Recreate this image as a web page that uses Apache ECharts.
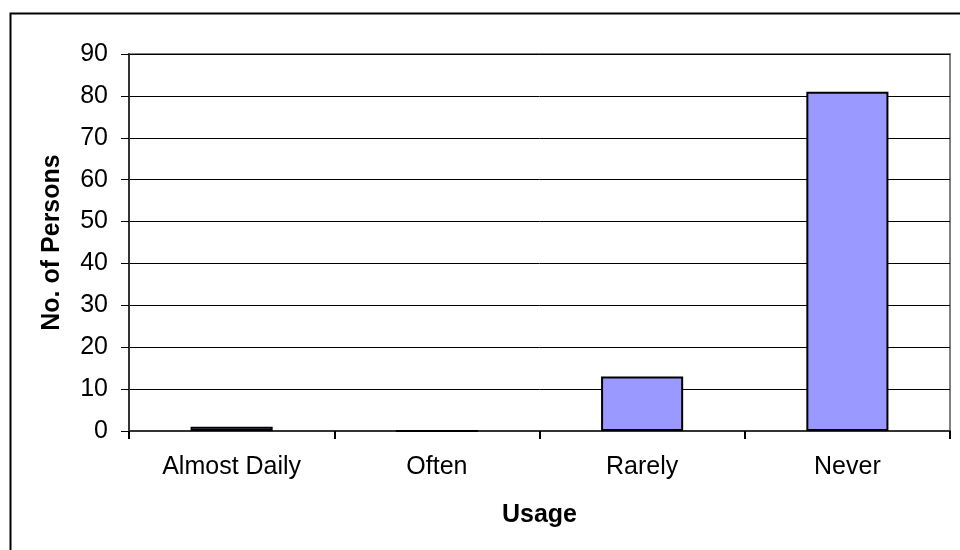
<!DOCTYPE html>
<html>
<head>
<meta charset="utf-8">
<script src="https://cdn.jsdelivr.net/npm/echarts@6/dist/echarts.min.js"></script>
<style>
html,body{margin:0;padding:0;background:#fff;}
#chart{width:960px;height:550px;}
</style>
</head>
<body>
<div id="chart"></div>
<script>
var categories = ['Almost Daily', 'Often', 'Rarely', 'Never'];
var persons = [1, 0, 13, 81];
var yMin = 0, yMax = 90, yStep = 10;
var xTitle = 'Usage';
var yTitle = 'No. of Persons';

var font = '"Liberation Sans", Arial, sans-serif';
var chart = echarts.init(document.getElementById('chart'), null, {renderer: 'canvas'});
chart.setOption({
  animation: false,
  backgroundColor: '#ffffff',
  graphic: [{
    type: 'rect', left: 8, top: 11, z: 100,
    shape: {width: 1000, height: 1000},
    style: {fill: null, stroke: '#000', lineWidth: 2}
  }],
  grid: {left: 129, top: 54, right: 10, bottom: 119, show: true, borderColor: '#808080', borderWidth: 2, backgroundColor: 'transparent'},
  xAxis: {
    type: 'category', data: categories,
    name: xTitle, nameLocation: 'middle', nameGap: 72,
    nameTextStyle: {fontFamily: font, fontSize: 25, fontWeight: 'bold', color: '#000'},
    axisLine: {lineStyle: {color: '#333', width: 2}},
    axisTick: {show: true, length: 8, lineStyle: {color: '#000', width: 2}},
    axisLabel: {fontFamily: font, fontSize: 25, color: '#000', margin: 24},
    splitLine: {show: false}
  },
  yAxis: {
    type: 'value', min: yMin, max: yMax, interval: yStep,
    name: yTitle, nameLocation: 'middle', nameGap: 64, nameRotate: 90,
    nameTextStyle: {fontFamily: font, fontSize: 25, fontWeight: 'bold', color: '#000'},
    axisLine: {show: true, lineStyle: {color: '#333', width: 2}},
    axisTick: {show: true, length: 8, lineStyle: {color: '#000', width: 1}},
    axisLabel: {fontFamily: font, fontSize: 25, color: '#000', margin: 21},
    splitLine: {show: true, lineStyle: {color: '#000', width: 1}}
  },
  series: [{
    type: 'bar', data: persons, barWidth: '40%',
    itemStyle: {color: '#9999ff', borderColor: '#000', borderWidth: 2}
  }]
});
</script>
</body>
</html>
